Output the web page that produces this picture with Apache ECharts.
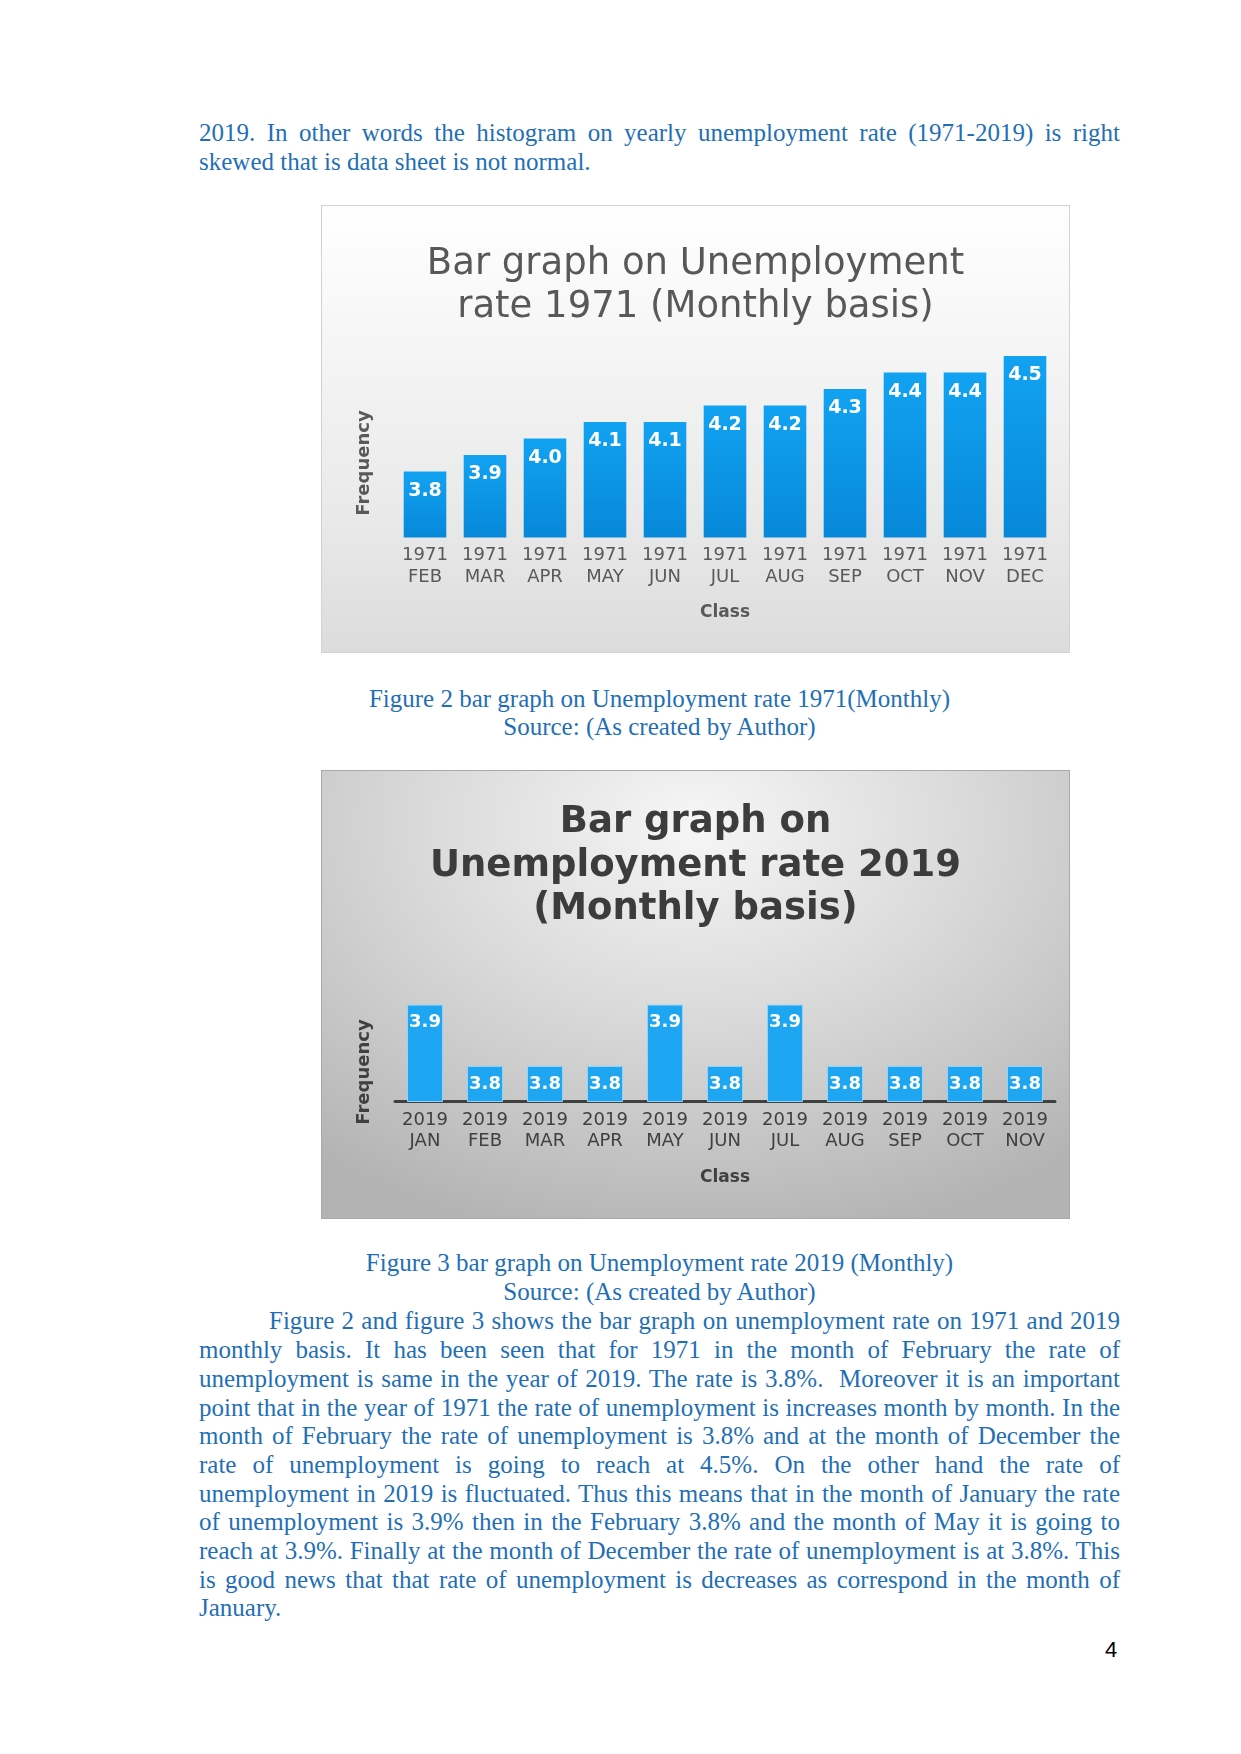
<!DOCTYPE html>
<html>
<head>
<meta charset="utf-8">
<script src="https://cdn.jsdelivr.net/npm/echarts@6/dist/echarts.min.js"></script>
<style>
  html, body { margin:0; padding:0; background:#ffffff; }
  body { width:1241px; height:1754px; position:relative; overflow:hidden; }
  .txt { position:absolute; left:199px; width:921px; font-family:"Liberation Serif","Times New Roman",serif; font-size:25px; line-height:28.7px; color:#1f6fb6; }
  .ln { text-align:justify; text-align-last:justify; white-space:normal; }
  .last { text-align:left; text-align-last:left; }
  .cap { text-align:center; }
  .chartbox { position:absolute; left:321px; width:749px; box-sizing:border-box; }
  #c1 { top:205px; height:448px; border:1px solid #d2d2d2; background:linear-gradient(to bottom,#ffffff 0%,#f4f4f4 35%,#e9e9e9 70%,#dcdcdc 100%); }
  #c2 { top:770px; height:449px; border:1px solid #a9a9a9; background:radial-gradient(ellipse 80% 95% at 50% 12%,#f6f6f6 0%,#dadada 45%,#c2c2c2 80%,#b3b3b3 100%); }
  #pg { position:absolute; left:1100px; top:1636px; width:22px; text-align:center; font-family:"Liberation Sans",Arial,sans-serif; font-size:22px; line-height:28px; color:#000; }
</style>
</head>
<body>
<div class="txt" style="top:119.2px;">
  <div class="ln">2019. In other words the histogram on yearly unemployment rate (1971-2019) is right</div>
  <div class="ln last">skewed that is data sheet is not normal.</div>
</div>

<div id="c1" class="chartbox"></div>

<div class="txt cap" style="top:684.6px;">
  <div>Figure 2 bar graph on Unemployment rate 1971(Monthly)</div>
  <div>Source: (As created by Author)</div>
</div>

<div id="c2" class="chartbox"></div>

<div class="txt cap" style="top:1249.4px;">
  <div>Figure 3 bar graph on Unemployment rate 2019 (Monthly)</div>
  <div>Source: (As created by Author)</div>
</div>

<div class="txt" style="top:1307.4px;">
  <div class="ln" style="text-indent:70px;">Figure 2 and figure 3 shows the bar graph on unemployment rate on 1971 and 2019</div>
  <div class="ln">monthly basis. It has been seen that for 1971 in the month of February the rate of</div>
  <div class="ln">unemployment is same in the year of 2019. The rate is 3.8%.&nbsp; Moreover it is an important</div>
  <div class="ln">point that in the year of 1971 the rate of unemployment is increases month by month. In the</div>
  <div class="ln">month of February the rate of unemployment is 3.8% and at the month of December the</div>
  <div class="ln">rate of unemployment is going to reach at 4.5%. On the other hand the rate of</div>
  <div class="ln">unemployment in 2019 is fluctuated. Thus this means that in the month of January the rate</div>
  <div class="ln">of unemployment is 3.9% then in the February 3.8% and the month of May it is going to</div>
  <div class="ln">reach at 3.9%. Finally at the month of December the rate of unemployment is at 3.8%. This</div>
  <div class="ln">is good news that that rate of unemployment is decreases as correspond in the month of</div>
  <div class="ln last">January.</div>
</div>

<div id="pg">4</div>

<script>
// ---- data ----
const months1971 = ['FEB','MAR','APR','MAY','JUN','JUL','AUG','SEP','OCT','NOV','DEC'];
const values1971 = [3.8, 3.9, 4.0, 4.1, 4.1, 4.2, 4.2, 4.3, 4.4, 4.4, 4.5];
const months2019 = ['JAN','FEB','MAR','APR','MAY','JUN','JUL','AUG','SEP','OCT','NOV'];
const values2019 = [3.9, 3.8, 3.8, 3.8, 3.9, 3.8, 3.9, 3.8, 3.8, 3.8, 3.8];
const title1971 = 'Bar graph on Unemployment\nrate 1971 (Monthly basis)';
const title2019 = 'Bar graph on\nUnemployment rate 2019\n(Monthly basis)';
const xTitle = 'Class';
const yTitle = 'Frequency';

const FONT = '"DejaVu Sans", Verdana, sans-serif';
const fmt = p => Number(p.value).toFixed(1);

// ---- chart 1 (1971) ----
const ch1 = echarts.init(document.getElementById('c1'), null, {renderer:'canvas'});
ch1.setOption({
  backgroundColor: 'transparent',
  animation: false,
  title: {
    text: title1971, left: 'center', top: 31.5,
    textStyle: { fontFamily: FONT, fontSize: 37, fontWeight: 'normal', color: '#585858', lineHeight: 43.5 }
  },
  grid: { left: 73, top: 133.5, width: 660, height: 198 },
  xAxis: {
    type: 'category',
    data: months1971.map(m => '1971\n' + m),
    axisLine: { show: false }, axisTick: { show: false },
    axisLabel: { fontFamily: FONT, fontSize: 18, color: '#595959', lineHeight: 22, margin: 6.5, interval: 0 },
    name: xTitle, nameLocation: 'middle', nameGap: 65.5,
    nameTextStyle: { fontFamily: FONT, fontSize: 17, fontWeight: 'bold', color: '#595959', lineHeight: 20 }
  },
  yAxis: { type: 'value', min: 3.4, max: 4.6, show: false, splitLine: { show: false } },
  series: [{
    type: 'bar', data: values1971, barCategoryGap: '29%',
    itemStyle: { color: new echarts.graphic.LinearGradient(0, 0, 0, 1, [
      { offset: 0, color: '#12a2f2' }, { offset: 1, color: '#0788d9' } ]) },
    label: { show: true, position: 'insideTop', distance: 10, formatter: fmt,
      fontFamily: FONT, fontSize: 19, fontWeight: 'bold', color: '#ffffff' }
  }],
  graphic: [{
    type: 'text', x: 42, y: 257, rotation: Math.PI / 2,
    style: { text: yTitle, font: 'bold 18px ' + FONT, fill: '#595959', align: 'center', verticalAlign: 'middle' }
  }]
});

// ---- chart 2 (2019) ----
const ch2 = echarts.init(document.getElementById('c2'), null, {renderer:'canvas'});
ch2.setOption({
  backgroundColor: 'transparent',
  animation: false,
  title: {
    text: title2019, left: 'center', top: 25,
    textStyle: { fontFamily: FONT, fontSize: 37, fontWeight: 'bold', color: '#3c3c3c', lineHeight: 43.5 }
  },
  grid: { left: 73, top: 172.3, width: 660, height: 158.2 },
  xAxis: {
    type: 'category',
    data: months2019.map(m => '2019\n' + m),
    axisLine: { show: true, lineStyle: { color: '#404040', width: 3 } },
    axisTick: { show: false },
    axisLabel: { fontFamily: FONT, fontSize: 18, color: '#404040', lineHeight: 21.5, margin: 8, interval: 0 },
    name: xTitle, nameLocation: 'middle', nameGap: 66.5,
    nameTextStyle: { fontFamily: FONT, fontSize: 17, fontWeight: 'bold', color: '#404040', lineHeight: 20 }
  },
  yAxis: { type: 'value', min: 3.742, max: 4.0, show: false, splitLine: { show: false } },
  series: [{
    type: 'bar', data: values2019, barCategoryGap: '40%',
    itemStyle: { color: '#1ea6f2', borderColor: '#95d3f6', borderWidth: 1 },
    label: { show: true, position: 'insideTop', distance: 9, formatter: fmt,
      fontFamily: FONT, fontSize: 18, fontWeight: 'bold', color: '#ffffff' }
  }],
  graphic: [{
    type: 'text', x: 42.5, y: 301, rotation: Math.PI / 2,
    style: { text: yTitle, font: 'bold 18px ' + FONT, fill: '#404040', align: 'center', verticalAlign: 'middle' }
  }]
});
</script>
</body>
</html>
